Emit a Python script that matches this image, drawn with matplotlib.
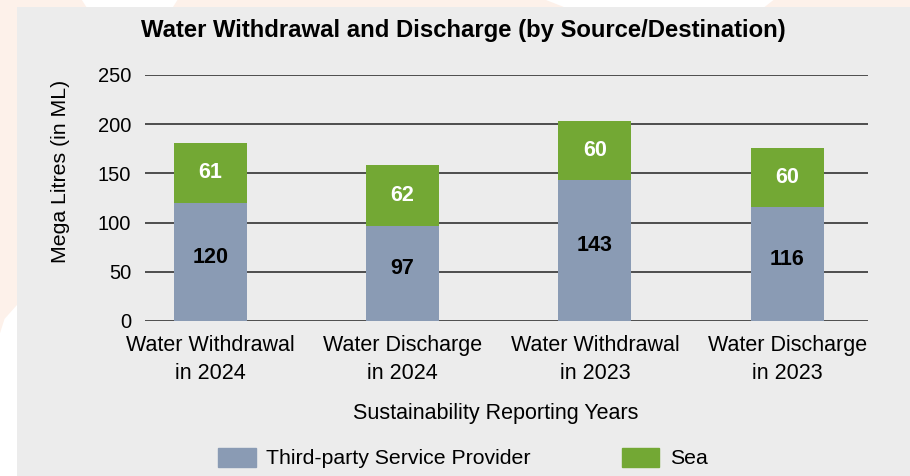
import matplotlib.pyplot as plt
from matplotlib.patches import Rectangle, Polygon
import numpy as np

plt.rcParams['font.family'] = ['Liberation Sans', 'DejaVu Sans']

categories = ['Water Withdrawal\nin 2024', 'Water Discharge\nin 2024',
              'Water Withdrawal\nin 2023', 'Water Discharge\nin 2023']
third_party = [120, 97, 143, 116]
sea = [61, 62, 60, 60]
yticks = [0, 50, 100, 150, 200, 250]

blue = '#8a9bb4'
green = '#73a834'
panel = '#ececec'

W, H = 910, 476
fig = plt.figure(figsize=(W / 100, H / 100), dpi=100)
fig.patch.set_facecolor('#fdf1ea')

# bits of the page decoration around the panel
for pts in [[(0, 0.0), (0, 0.30), (0.005, 0.33), (0.019, 0.36), (0.019, 0.0)],
            [(0.09, 1.0), (0.095, 0.985), (0.19, 0.985), (0.195, 1.0)],
            [(0.6, 1.0), (0.62, 0.985), (0.84, 0.985), (0.85, 1.0)]]:
    fig.add_artist(Polygon(pts, closed=True, transform=fig.transFigure,
                           facecolor='white', edgecolor='none', zorder=0))
fig.add_artist(Rectangle((17 / W, 0), 1, (H - 7) / H, transform=fig.transFigure,
                         facecolor=panel, edgecolor='none', zorder=0))

ax = fig.add_axes([145 / W, (H - 321) / H, (868 - 145) / W, (321 - 75) / H])
ax.set_facecolor('none')

x = np.arange(len(categories))
bw = 0.38
ax.bar(x, third_party, width=bw, color=blue, zorder=3)
ax.bar(x, sea, width=bw, bottom=third_party, color=green, zorder=3)

for i in range(len(categories)):
    ax.text(x[i], third_party[i] / 2 + 5, str(third_party[i]), ha='center', va='center',
            fontsize=15.5, fontweight='bold', color='black', zorder=4)
    ax.text(x[i], third_party[i] + sea[i] / 2, str(sea[i]), ha='center', va='center',
            fontsize=15.5, fontweight='bold', color='white', zorder=4)

ax.set_xlim(-0.34, 3.42)
ax.set_ylim(0, 250)
ax.set_yticks(yticks)
ax.yaxis.grid(True, color='#222222', linewidth=1.1)
ax.set_axisbelow(True)
for s in ax.spines.values():
    s.set_visible(False)
ax.tick_params(axis='y', length=0, pad=10, labelsize=14.5)
ax.tick_params(axis='x', length=0, pad=10, labelsize=15.5)
ax.set_xticks(x)
ax.set_xticklabels(categories, linespacing=1.42)

fig.text(463 / W, 1 - 30 / H, 'Water Withdrawal and Discharge (by Source/Destination)',
         ha='center', va='center', fontsize=17.2, fontweight='bold')
fig.text(60 / W, 1 - 171 / H, 'Mega Litres (in ML)', rotation=90,
         ha='center', va='center', fontsize=15.3)
fig.text(496 / W, 1 - 413 / H, 'Sustainability Reporting Years',
         ha='center', va='center', fontsize=15.5)

handles = [Rectangle((0, 0), 1, 1, color=blue), Rectangle((0, 0), 1, 1, color=green)]
fig.legend(handles, ['Third-party Service Provider', 'Sea'], loc='center',
           bbox_to_anchor=(463 / W, 1 - 458 / H), ncol=2, frameon=False,
           fontsize=15.3, handlelength=1.75, handleheight=1.0, columnspacing=4.3,
           handletextpad=0.5)

fig.savefig('out.png', dpi=100, facecolor=fig.get_facecolor())
